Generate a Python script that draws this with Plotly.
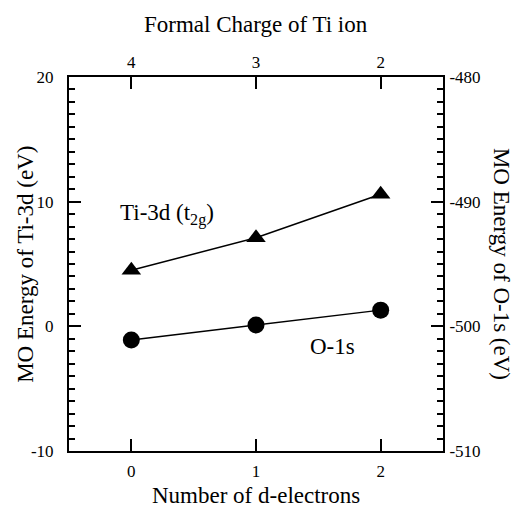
import plotly.graph_objects as go

d_electrons = [0, 1, 2]
formal_charge = [4, 3, 2]
ti3d_energy = [4.5, 7.1, 10.6]          # eV, left axis
o1s_energy = [-501.1, -499.9, -498.7]   # eV, right axis
left_ticks = [-10, 0, 10, 20]
right_ticks = [-510, -500, -490, -480]

FONT = "Liberation Serif"
TSIZE = 23

fig = go.Figure()
fig.add_trace(go.Scatter(
    x=d_electrons, y=ti3d_energy, mode="lines+markers",
    line=dict(color="black", width=1.5),
    marker=dict(symbol="triangle-up", size=17, color="black"),
    xaxis="x", yaxis="y", showlegend=False))
fig.add_trace(go.Scatter(
    x=formal_charge, y=o1s_energy, mode="lines+markers",
    line=dict(color="black", width=1.5),
    marker=dict(symbol="circle", size=17, color="black"),
    xaxis="x2", yaxis="y2", showlegend=False))

axis_common = dict(showline=True, linecolor="black", linewidth=2, ticks="inside",
                   ticklen=12, tickwidth=2, tickcolor="black", showgrid=False,
                   zeroline=False, tickfont=dict(family=FONT, size=17, color="black"))
minor = dict(dtick=1, ticks="inside", ticklen=6, tickwidth=2, tickcolor="black")

fig.update_layout(
    width=522, height=508,
    margin=dict(l=68.5, r=79, t=77, b=56.5),
    paper_bgcolor="white", plot_bgcolor="white",
    font=dict(family=FONT, color="black"),
    xaxis=dict(range=[-0.5, 2.5], tickvals=d_electrons, ticklabelstandoff=4, **axis_common),
    xaxis2=dict(range=[4.5, 1.5], tickvals=formal_charge, overlaying="x", side="top",
                ticklabelstandoff=0, **axis_common),
    yaxis=dict(range=[-10, 20], tickvals=left_ticks, ticktext=[str(v) for v in left_ticks],
               ticklabelstandoff=10, minor=minor, **axis_common),
    yaxis2=dict(range=[-510, -480], tickvals=right_ticks, ticktext=[str(v) for v in right_ticks],
                overlaying="y", side="right", ticklabelstandoff=1, minor=minor, **axis_common),
    annotations=[
        dict(text="Number of d-electrons", xref="paper", yref="paper", x=0.5, y=-0.12,
             showarrow=False, font=dict(family=FONT, size=TSIZE), xanchor="center", yanchor="middle"),
        dict(text="Formal Charge of Ti ion", xref="paper", yref="paper", x=0.5, y=1.141,
             showarrow=False, font=dict(family=FONT, size=TSIZE), xanchor="center", yanchor="middle"),
        dict(text="MO Energy of Ti-3d (eV)", xref="paper", yref="paper", x=-0.118, y=0.5,
             textangle=-90, showarrow=False, font=dict(family=FONT, size=TSIZE),
             xanchor="center", yanchor="middle"),
        dict(text="MO Energy of O-1s (eV)", xref="paper", yref="paper", x=1.158, y=0.5,
             textangle=90, showarrow=False, font=dict(family=FONT, size=TSIZE),
             xanchor="center", yanchor="middle"),
        dict(text="Ti-3d (t<sub>2g</sub>)", xref="x", yref="y", x=0.29, y=8.95,
             showarrow=False, font=dict(family=FONT, size=TSIZE), xanchor="center", yanchor="middle"),
        dict(text="O-1s", xref="x", yref="y", x=1.61, y=-1.63,
             showarrow=False, font=dict(family=FONT, size=TSIZE), xanchor="center", yanchor="middle"),
    ],
)

fig.write_html("out.html")
